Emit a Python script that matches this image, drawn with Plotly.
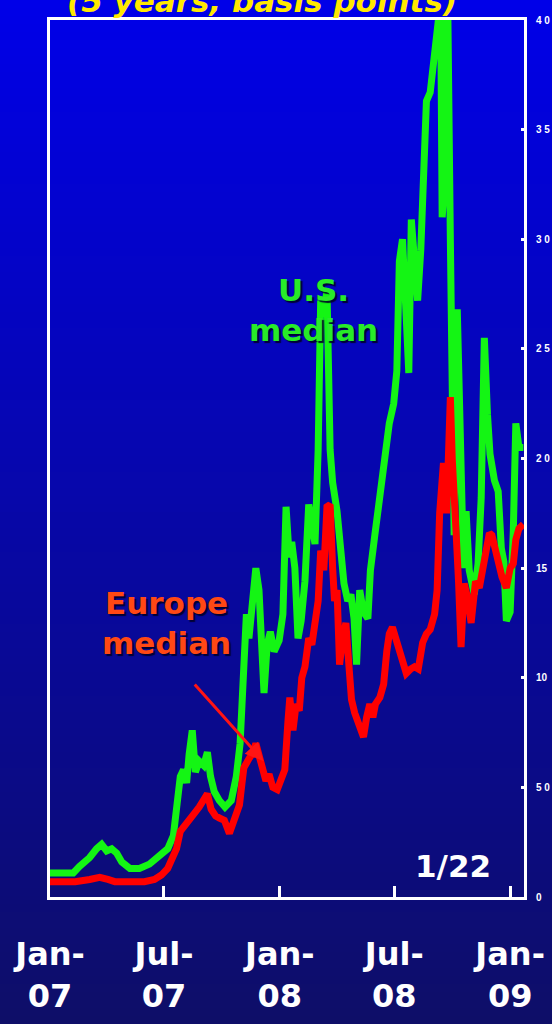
import plotly.graph_objects as go

# U.S. median CDS spread (5 years, basis points)
us_dates = [
    "2007-01-01", "2007-01-17", "2007-02-07", "2007-02-17", "2007-03-05", "2007-03-16",
    "2007-03-24", "2007-04-01", "2007-04-09", "2007-04-17", "2007-04-25", "2007-05-08",
    "2007-05-23", "2007-06-08", "2007-06-24", "2007-07-07", "2007-07-16", "2007-07-22",
    "2007-07-27", "2007-08-01", "2007-08-06", "2007-08-10", "2007-08-15", "2007-08-20",
    "2007-08-26", "2007-09-02", "2007-09-08", "2007-09-13", "2007-09-19", "2007-09-27",
    "2007-10-06", "2007-10-16", "2007-10-24", "2007-10-30", "2007-11-04", "2007-11-09",
    "2007-11-13", "2007-11-20", "2007-11-24", "2007-11-29", "2007-12-04", "2007-12-07",
    "2007-12-12", "2007-12-17", "2007-12-23", "2007-12-31", "2008-01-06", "2008-01-11",
    "2008-01-16", "2008-01-20", "2008-01-25", "2008-01-30", "2008-02-04", "2008-02-10",
    "2008-02-16", "2008-02-21", "2008-02-26", "2008-03-02", "2008-03-06", "2008-03-11",
    "2008-03-16", "2008-03-21", "2008-03-25", "2008-04-01", "2008-04-07", "2008-04-12",
    "2008-04-18", "2008-04-23", "2008-04-28", "2008-05-02", "2008-05-07", "2008-05-13",
    "2008-05-20", "2008-05-24", "2008-05-31", "2008-06-06", "2008-06-12", "2008-06-19",
    "2008-06-23", "2008-06-30", "2008-07-05", "2008-07-09", "2008-07-14", "2008-07-19",
    "2008-07-24", "2008-07-28", "2008-08-02", "2008-08-07", "2008-08-12", "2008-08-16",
    "2008-08-21", "2008-08-27", "2008-09-01", "2008-09-06", "2008-09-09", "2008-09-12",
    "2008-09-15", "2008-09-20", "2008-09-23", "2008-09-28", "2008-10-01", "2008-10-04",
    "2008-10-09", "2008-10-14", "2008-10-19", "2008-10-23", "2008-10-28", "2008-11-05",
    "2008-11-11", "2008-11-16", "2008-11-21", "2008-11-26", "2008-11-30", "2008-12-07",
    "2008-12-13", "2008-12-18", "2008-12-22", "2008-12-26", "2009-01-01", "2009-01-06",
    "2009-01-10", "2009-01-15", "2009-01-22",
]
us_median = [
    11, 11, 11, 14, 18, 22,
    24, 21, 22, 20, 16, 13,
    13, 15, 19, 22, 28, 40,
    55, 58, 52, 65, 76, 57,
    62, 60, 66, 55, 48, 44,
    41, 44, 55, 70, 95, 129,
    118, 135, 150, 140, 110, 93,
    115, 121, 112, 117, 129, 178,
    155, 162, 150, 118, 126, 144,
    179, 170, 161, 204, 272, 265,
    277, 204, 189, 176, 155, 143,
    135, 138, 127, 106, 140, 130,
    127, 149, 165, 178, 189, 210,
    216, 225, 240, 290, 300, 270,
    239, 309, 290, 272, 295, 325,
    363, 367, 379, 391, 400, 430,
    310, 330, 430, 300, 216, 165,
    268, 200, 150, 176, 149, 138,
    152, 182, 255, 220, 202, 190,
    185, 159, 153, 126, 130, 167,
    216, 205, 205,
]

# Europe median CDS spread (5 years, basis points)
eu_dates = [
    "2007-01-01", "2007-01-17", "2007-02-10", "2007-03-05", "2007-03-21", "2007-04-03",
    "2007-04-14", "2007-05-08", "2007-05-31", "2007-06-16", "2007-06-27", "2007-07-07",
    "2007-07-13", "2007-07-21", "2007-07-27", "2007-08-03", "2007-08-10", "2007-08-18",
    "2007-08-26", "2007-09-03", "2007-09-08", "2007-09-14", "2007-09-21", "2007-09-27",
    "2007-10-05", "2007-10-13", "2007-10-21", "2007-10-29", "2007-11-02", "2007-11-05",
    "2007-11-13", "2007-11-20", "2007-11-24", "2007-11-29", "2007-12-06", "2007-12-10",
    "2007-12-15", "2007-12-21", "2007-12-28", "2008-01-03", "2008-01-09", "2008-01-14",
    "2008-01-17", "2008-01-22", "2008-01-27", "2008-02-01", "2008-02-05", "2008-02-10",
    "2008-02-16", "2008-02-21", "2008-02-26", "2008-03-02", "2008-03-06", "2008-03-11",
    "2008-03-16", "2008-03-21", "2008-03-25", "2008-03-28", "2008-04-01", "2008-04-05",
    "2008-04-10", "2008-04-15", "2008-04-20", "2008-04-24", "2008-04-29", "2008-05-04",
    "2008-05-09", "2008-05-13", "2008-05-18", "2008-05-23", "2008-05-28", "2008-06-01",
    "2008-06-08", "2008-06-14", "2008-06-19", "2008-06-23", "2008-06-28", "2008-07-03",
    "2008-07-08", "2008-07-14", "2008-07-20", "2008-07-27", "2008-08-02", "2008-08-08",
    "2008-08-15", "2008-08-21", "2008-08-27", "2008-09-03", "2008-09-07", "2008-09-11",
    "2008-09-14", "2008-09-17", "2008-09-22", "2008-09-25", "2008-09-28", "2008-10-01",
    "2008-10-04", "2008-10-07", "2008-10-11", "2008-10-15", "2008-10-20", "2008-10-25",
    "2008-10-31", "2008-11-07", "2008-11-13", "2008-11-19", "2008-11-24", "2008-11-29",
    "2008-12-03", "2008-12-08", "2008-12-13", "2008-12-19", "2008-12-26", "2009-01-01",
    "2009-01-06", "2009-01-10", "2009-01-15", "2009-01-22",
]
eu_median = [
    7, 7, 7, 8, 9, 8,
    7, 7, 7, 8, 10, 13,
    17, 22, 30, 33, 35, 38,
    41, 44, 47, 40, 37, 36,
    35, 29, 36, 42, 52, 59,
    63, 66, 70, 64, 55, 53,
    56, 50, 49, 53, 58, 80,
    91, 76, 88, 85, 100, 105,
    118, 115, 125, 135, 158, 149,
    178, 179, 150, 135, 140, 106,
    118, 125, 105, 90, 84, 80,
    77, 73, 82, 88, 82, 88,
    91, 97, 112, 120, 123, 118,
    114, 107, 102, 104, 105, 104,
    116, 120, 122, 129, 140, 175,
    192, 198, 175, 210, 228, 200,
    175, 167, 144, 114, 143, 137,
    125, 144, 141, 150, 160, 166,
    165, 158, 153, 146, 141, 150,
    152, 163, 168, 170,
]

x_tick_vals = ["2007-01-01", "2007-07-01", "2008-01-01", "2008-07-01", "2009-01-01"]
x_tick_text = ["Jan-<br>07", "Jul-<br>07", "Jan-<br>08", "Jul-<br>08", "Jan-<br>09"]
y_tick_vals = [0, 50, 100, 150, 200, 250, 300, 350, 400]
y_tick_text = ["0", "5 0", "10", "15", "2 0", "2 5", "3 0", "3 5", "4 0"]

W, H = 552, 1024
M_L, M_R, M_T, M_B = 50, 28, 20, 127
PLOT_W = W - M_L - M_R
PLOT_H = H - M_T - M_B


def px_to_paper_x(px):
    return (px - M_L) / PLOT_W


def px_to_paper_y(py):
    return (H - M_B - py) / PLOT_H


# vertical blue gradient behind everything, built from thin bands
top_rgb = (0, 0, 232)
bot_rgb = (14, 14, 104)
n_bands = 128
shapes = []
for i in range(n_bands):
    t = i / (n_bands - 1)
    r = round(top_rgb[0] + (bot_rgb[0] - top_rgb[0]) * t)
    g = round(top_rgb[1] + (bot_rgb[1] - top_rgb[1]) * t)
    b = round(top_rgb[2] + (bot_rgb[2] - top_rgb[2]) * t)
    y0 = H * i / n_bands - (4 if i == 0 else 0)
    y1 = H * (i + 1) / n_bands + (12 if i == n_bands - 1 else 1)
    shapes.append(dict(
        type="rect", xref="paper", yref="paper", layer="below",
        x0=px_to_paper_x(-4), x1=px_to_paper_x(W + 4),
        y0=px_to_paper_y(y1), y1=px_to_paper_y(y0),
        fillcolor=f"rgb({r},{g},{b})", line=dict(width=0),
    ))

fig = go.Figure()
fig.add_trace(go.Scatter(
    x=us_dates, y=us_median, mode="lines", name="U.S. median",
    line=dict(color="rgb(20,245,20)", width=7), showlegend=False,
))
fig.add_trace(go.Scatter(
    x=eu_dates, y=eu_median, mode="lines", name="Europe median",
    line=dict(color="rgb(255,0,0)", width=7), showlegend=False,
))

label_font = "DejaVu Sans"
annotations = [
    dict(text="<b><i>(5 years, basis points)</i></b>", xref="paper", yref="paper",
         x=px_to_paper_x(262), y=px_to_paper_y(1), xanchor="center", yanchor="middle",
         showarrow=False, font=dict(family=label_font, size=31, color="rgb(255,232,0)")),
    dict(text="<b>U.S.<br>median</b>", xref="paper", yref="paper",
         x=px_to_paper_x(313), y=px_to_paper_y(310), xanchor="center", yanchor="middle",
         showarrow=False,
         font=dict(family=label_font, size=31, color="rgb(40,235,40)",
                   shadow="2px 2px 1px rgba(0,0,40,0.9)")),
    dict(text="<b>Europe<br>median</b>", xref="paper", yref="paper",
         x=px_to_paper_x(166), y=px_to_paper_y(623), xanchor="center", yanchor="middle",
         showarrow=False,
         font=dict(family=label_font, size=31, color="rgb(255,72,20)",
                   shadow="2px 2px 1px rgba(0,0,40,0.9)")),
    dict(text="", x="2007-12-06", y=62, xref="x", yref="y",
         showarrow=True, arrowhead=2, arrowsize=1.2, arrowwidth=3,
         arrowcolor="rgb(255,20,20)", ax=-70, ay=-78, standoff=0),
    dict(text="<b>1/22</b>", xref="paper", yref="paper",
         x=px_to_paper_x(453), y=px_to_paper_y(866), xanchor="center", yanchor="middle",
         showarrow=False, font=dict(family=label_font, size=31, color="white")),
]

fig.update_layout(
    width=W, height=H,
    margin=dict(l=M_L, r=M_R, t=M_T, b=M_B, pad=0, autoexpand=False),
    paper_bgcolor="rgb(14,14,104)",
    plot_bgcolor="rgba(0,0,0,0)",
    shapes=shapes,
    annotations=annotations,
    showlegend=False,
    xaxis=dict(
        type="date", range=["2007-01-01", "2009-01-23"], automargin=False,
        tickmode="array", tickvals=x_tick_vals, ticktext=x_tick_text,
        showgrid=False, zeroline=False,
        showline=True, linecolor="white", linewidth=3, mirror=True,
        ticks="inside", ticklen=11, tickwidth=3, tickcolor="white",
        ticklabelstandoff=27,
        tickfont=dict(family=label_font, size=32, color="white", weight="bold"),
    ),
    yaxis=dict(
        range=[0, 400], side="right", automargin=False,
        tickmode="array", tickvals=y_tick_vals, ticktext=y_tick_text,
        showgrid=False, zeroline=False,
        showline=True, linecolor="white", linewidth=3, mirror=True,
        ticks="inside", ticklen=3, tickwidth=3, tickcolor="white",
        ticklabelstandoff=7,
        tickfont=dict(family="Liberation Sans", size=10, color="white", weight="bold"),
    ),
)

fig.write_html("out.html")
